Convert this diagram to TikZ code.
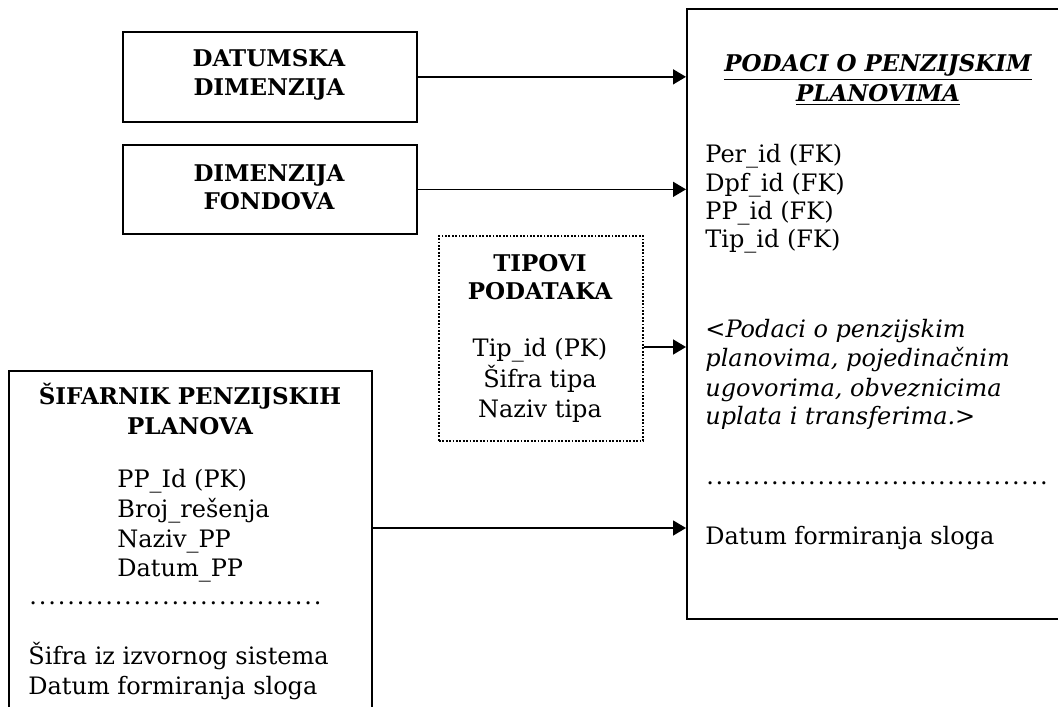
\documentclass[tikz,border=0pt]{standalone}
\usepackage{fontspec}
\setmainfont{DejaVu Serif}
\usetikzlibrary{arrows.meta}
% a row of spaced periods, used as a separator inside the tables
\newcommand{\dotrow}[1]{\makebox[#1][l]{\xleaders\hbox to 4.6pt{\hss.\hss}\hfill}}
\begin{document}
\begin{tikzpicture}[x=0.5pt,y=-0.5pt,
  box/.style={draw, line width=0.85pt, inner sep=0pt, anchor=north west},
  dotbox/.style={box, line width=0.9pt, dash pattern=on 0.9pt off 0.8pt},
  head/.style={font=\bfseries\fontsize{11.5}{14}\selectfont, inner sep=0pt, anchor=base},
  ttl/.style={font=\bfseries\itshape\fontsize{11.5}{14}\selectfont, inner sep=0pt, anchor=base},
  fld/.style={font=\fontsize{12}{14.5}\selectfont, inner sep=0pt, anchor=base west},
  fldc/.style={fld, anchor=base},
  note/.style={fld, font=\itshape\fontsize{12}{14.5}\selectfont},
  conn/.style={line width=0.75pt, -{Triangle[length=6.5pt,width=7.5pt]}}]
\clip (0,0) rectangle (1058,706);

% table frames
\node[box, minimum width=147pt, minimum height=45pt] (dat) at (122,31) {};
\node[box, minimum width=147pt, minimum height=44.5pt] (fon) at (122,144) {};
\node[dotbox, minimum width=102pt, minimum height=102.5pt] (tip) at (438,235) {};
\node[box, minimum width=192pt, minimum height=305pt] (pod) at (686,8) {};
\node[box, minimum width=181.5pt, minimum height=175pt] (sif) at (8,370) {};

% date dimension
\node[head] (dat1) at (269,67) {DATUMSKA};
\node[head] (dat2) at (269,96) {DIMENZIJA};

% fund dimension
\node[head] (fon1) at (269,181) {DIMENZIJA};
\node[head] (fon2) at (269,209) {FONDOVA};

% data types
\node[head] (tip1) at (540,271) {TIPOVI};
\node[head] (tip2) at (540,299) {PODATAKA};
\node[fldc] (tip3) at (540,356) {Tip\_id (PK)};
\node[fldc] (tip4) at (540,387) {Šifra tipa};
\node[fldc] (tip5) at (540,417) {Naziv tipa};

% pension plan facts
\node[ttl] (pod1) at (878,72) {\underline{PODACI O PENZIJSKIM}};
\node[ttl] (pod2) at (878,101) {\underline{PLANOVIMA}};
\node[fld] (pod3) at (705,162) {Per\_id (FK)};
\node[fld] (pod4) at (705,191) {Dpf\_id (FK)};
\node[fld] (pod5) at (705,219) {PP\_id (FK)};
\node[fld] (pod6) at (705,247) {Tip\_id (FK)};
\node[note] (pod7) at (705,337) {<Podaci o penzijskim};
\node[note] (pod8) at (705,366) {planovima, pojedinačnim};
\node[note] (pod9) at (705,396) {ugovorima, obveznicima};
\node[note] (pod10) at (705,424) {uplata i transferima.>};
\node[fld] (pod11) at (705,484) {\dotrow{171.5pt}};
\node[fld] (pod12) at (705,544) {Datum formiranja sloga};

% pension plan codebook
\node[head] (sif1) at (190,404) {ŠIFARNIK PENZIJSKIH};
\node[head] (sif2) at (190,434) {PLANOVA};
\node[fld] (sif3) at (117,487) {PP\_Id (PK)};
\node[fld] (sif4) at (117,517) {Broj\_rešenja};
\node[fld] (sif5) at (117,547) {Naziv\_PP};
\node[fld] (sif6) at (117,576) {Datum\_PP};
\node[fld] (sif7) at (28,604) {\dotrow{147pt}};
\node[fld] (sif8) at (28,664) {Šifra iz izvornog sistema};
\node[fld] (sif9) at (28,694) {Datum formiranja sloga};

% connector heights
\coordinate (y3) at (0,347);
\coordinate (y4) at (0,528);

% references into the fact table
\draw[conn] (dat.east) -- (dat.east -| pod.west);
\draw[conn] (fon.east) -- (fon.east -| pod.west);
\draw[conn] (tip.east |- y3) -- (y3 -| pod.west);
\draw[conn] (sif.east |- y4) -- (y4 -| pod.west);
\end{tikzpicture}
\end{document}
